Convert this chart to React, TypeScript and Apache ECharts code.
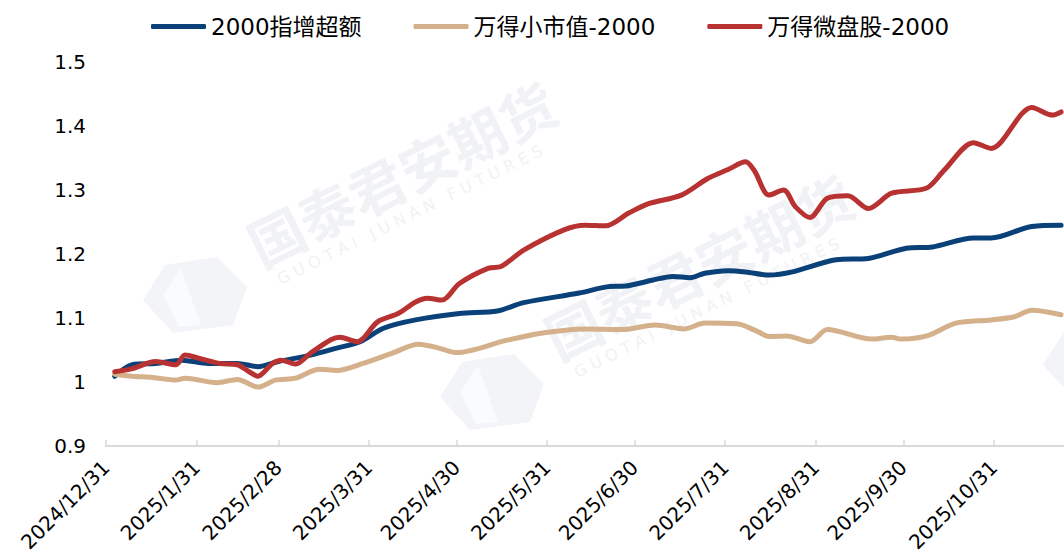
import React, { useEffect, useRef } from "react";
import * as echarts from "echarts";

const seriesNames = ["2000指增超额", "万得小市值-2000", "万得微盘股-2000"];
const seriesColors = ["#0b4179", "#d4b08b", "#b83232"];

const tickLabels = [
  "2024/12/31", "2025/1/31", "2025/2/28", "2025/3/31", "2025/4/30", "2025/5/31",
  "2025/6/30", "2025/7/31", "2025/8/31", "2025/9/30", "2025/10/31",
];

const axisStart = "2024/12/31";
const axisEnd = "2025/11/24";

const yMin = 0.9;
const yMax = 1.5;
const yStep = 0.1;

const blueData: [string, number][] = [
  ["2025/1/3", 1.009], ["2025/1/9", 1.027], ["2025/1/17", 1.029], ["2025/1/26", 1.034],
  ["2025/2/4", 1.029], ["2025/2/14", 1.029], ["2025/2/21", 1.024], ["2025/2/28", 1.032],
  ["2025/3/11", 1.042], ["2025/3/20", 1.053], ["2025/3/28", 1.063], ["2025/4/5", 1.084],
  ["2025/4/16", 1.097], ["2025/5/1", 1.107], ["2025/5/14", 1.111], ["2025/5/23", 1.124],
  ["2025/6/11", 1.139], ["2025/6/21", 1.149], ["2025/6/27", 1.150], ["2025/7/6", 1.159],
  ["2025/7/13", 1.165], ["2025/7/19", 1.163], ["2025/7/24", 1.170], ["2025/8/1", 1.174],
  ["2025/8/7", 1.172], ["2025/8/15", 1.167], ["2025/8/23", 1.172], ["2025/9/7", 1.191],
  ["2025/9/18", 1.193], ["2025/10/1", 1.209], ["2025/10/10", 1.211], ["2025/10/24", 1.225],
  ["2025/10/30", 1.225], ["2025/11/13", 1.243], ["2025/11/23", 1.245],
];

const tanData: [string, number][] = [
  ["2025/1/3", 1.012], ["2025/1/9", 1.009], ["2025/1/16", 1.007], ["2025/1/24", 1.003],
  ["2025/1/27", 1.006], ["2025/2/7", 0.999], ["2025/2/14", 1.004], ["2025/2/21", 0.992],
  ["2025/2/27", 1.003], ["2025/3/6", 1.006], ["2025/3/14", 1.020], ["2025/3/20", 1.018],
  ["2025/3/29", 1.029], ["2025/4/8", 1.045], ["2025/4/17", 1.059], ["2025/4/20", 1.057],
  ["2025/4/24", 1.053], ["2025/4/30", 1.046], ["2025/5/17", 1.065], ["2025/5/30", 1.077],
  ["2025/6/13", 1.083], ["2025/6/26", 1.082], ["2025/7/7", 1.089], ["2025/7/17", 1.083],
  ["2025/7/24", 1.092], ["2025/8/4", 1.091], ["2025/8/11", 1.079], ["2025/8/15", 1.071],
  ["2025/8/21", 1.072], ["2025/8/29", 1.063], ["2025/9/4", 1.082], ["2025/9/19", 1.067],
  ["2025/9/26", 1.070], ["2025/9/29", 1.067], ["2025/10/8", 1.072], ["2025/10/18", 1.092],
  ["2025/10/30", 1.097], ["2025/11/7", 1.102], ["2025/11/13", 1.112], ["2025/11/23", 1.105],
];

const redData: [string, number][] = [
  ["2025/1/3", 1.016], ["2025/1/9", 1.021], ["2025/1/17", 1.032], ["2025/1/24", 1.027],
  ["2025/1/27", 1.042], ["2025/2/1", 1.037], ["2025/2/8", 1.029], ["2025/2/14", 1.027],
  ["2025/2/18", 1.016], ["2025/2/21", 1.009], ["2025/2/26", 1.029], ["2025/3/1", 1.034],
  ["2025/3/6", 1.028], ["2025/3/11", 1.045], ["2025/3/18", 1.066], ["2025/3/21", 1.070],
  ["2025/3/27", 1.063], ["2025/3/29", 1.068], ["2025/4/3", 1.094], ["2025/4/10", 1.107],
  ["2025/4/16", 1.125], ["2025/4/20", 1.131], ["2025/4/25", 1.128], ["2025/5/1", 1.154],
  ["2025/5/11", 1.178], ["2025/5/15", 1.180], ["2025/5/23", 1.206], ["2025/6/6", 1.238],
  ["2025/6/13", 1.245], ["2025/6/20", 1.244], ["2025/6/28", 1.264], ["2025/7/5", 1.279],
  ["2025/7/16", 1.292], ["2025/7/25", 1.318], ["2025/8/1", 1.332], ["2025/8/7", 1.344],
  ["2025/8/10", 1.330], ["2025/8/15", 1.292], ["2025/8/20", 1.300], ["2025/8/24", 1.274],
  ["2025/8/29", 1.257], ["2025/9/4", 1.287], ["2025/9/11", 1.291], ["2025/9/18", 1.271],
  ["2025/9/26", 1.295], ["2025/10/8", 1.303], ["2025/10/14", 1.331], ["2025/10/24", 1.374],
  ["2025/10/30", 1.365], ["2025/11/13", 1.429], ["2025/11/20", 1.417], ["2025/11/23", 1.422],
];

function buildDays(from: string, to: string): string[] {
  const parse = (s: string) => {
    const [y, m, d] = s.split("/").map(Number);
    return Date.UTC(y, m - 1, d);
  };
  const out: string[] = [];
  for (let t = parse(from); t <= parse(to); t += 86400000) {
    const d = new Date(t);
    out.push(`${d.getUTCFullYear()}/${d.getUTCMonth() + 1}/${d.getUTCDate()}`);
  }
  return out;
}

const WM_COLOR = "#f0f2f6";

function watermark(x: number, y: number) {
  return {
    type: "group",
    x,
    y,
    rotation: 0.46,
    silent: true,
    z: 0,
    children: [
      {
        type: "text",
        x: 0,
        y: 0,
        style: {
          text: "国泰君安期货",
          fill: WM_COLOR,
          font: 'bold 56px "Noto Sans CJK SC"',
          textVerticalAlign: "bottom",
          textAlign: "left",
        },
      },
      {
        type: "text",
        x: 10,
        y: 6,
        style: {
          text: "G U O T A I   J U N A N   F U T U R E S",
          fill: WM_COLOR,
          font: '16px "DejaVu Sans"',
          textVerticalAlign: "top",
          textAlign: "left",
        },
      },
    ],
  };
}

function logo(cx: number, cy: number) {
  return {
    type: "group",
    x: cx,
    y: cy,
    silent: true,
    z: 0,
    children: [
      {
        type: "polygon",
        shape: {
          points: [[-52, 5], [-30, -30], [22, -38], [52, -8], [38, 30], [-22, 38]],
        },
        style: { fill: "#f2f4f8" },
      },
      {
        type: "polygon",
        shape: {
          points: [[-32, 0], [-14, -26], [6, 30], [-16, 32]],
        },
        style: { fill: "#fafbfd" },
      },
    ],
  };
}

export default function App() {
  const ref = useRef<HTMLDivElement>(null);

  useEffect(() => {
    if (!ref.current) return;
    const chart = echarts.init(ref.current, undefined, { renderer: "svg" });
    const categories = buildDays(axisStart, axisEnd);
    const tickSet = new Set(tickLabels);
    const showTick = (_i: number, v: string) => tickSet.has(v);

    const datasets = [blueData, tanData, redData];

    chart.setOption({
      animation: false,
      backgroundColor: "#ffffff",
      graphic: [
        logo(195, 295),
        logo(492, 392),
        logo(1095, 360),
        watermark(263, 272),
        watermark(560, 365),
      ],
      legend: {
        left: 146,
        top: 10,
        icon: "roundRect",
        itemWidth: 55,
        itemHeight: 5,
        itemGap: 52,
        data: seriesNames,
        textStyle: {
          fontSize: 23,
          fontFamily: '"DejaVu Sans", "Noto Sans CJK SC"',
          color: "#000",
        },
      },
      grid: {
        left: 106,
        right: 0,
        top: 62,
        bottom: 112,
        containLabel: false,
        outerBoundsMode: "none",
      },
      xAxis: {
        type: "category",
        data: categories,
        boundaryGap: false,
        axisLine: { show: true, lineStyle: { color: "#d9d9d9", width: 2 } },
        axisTick: {
          show: true,
          inside: true,
          length: 6,
          interval: showTick,
          lineStyle: { color: "#d9d9d9", width: 1.5 },
        },
        axisLabel: {
          interval: showTick,
          rotate: 45,
          margin: 18,
          fontSize: 20,
          fontFamily: '"DejaVu Sans"',
          color: "#000",
        },
        splitLine: { show: false },
      },
      yAxis: {
        type: "value",
        min: yMin,
        max: yMax,
        interval: yStep,
        axisLine: { show: false },
        axisTick: { show: false },
        splitLine: { show: false },
        axisLabel: {
          margin: 20,
          fontSize: 20,
          fontFamily: '"DejaVu Sans"',
          color: "#000",
          formatter: (v: number) => String(Math.round(v * 10) / 10),
        },
      },
      series: seriesNames.map((name, i) => ({
        name,
        type: "line",
        data: datasets[i],
        showSymbol: false,
        symbol: "none",
        smooth: 0.3,
        z: 3 + i,
        itemStyle: { color: seriesColors[i] },
        lineStyle: { color: seriesColors[i], width: 5, cap: "round", join: "round" },
      })),
    });

    return () => chart.dispose();
  }, []);

  return (
    <div
      ref={ref}
      style={{ position: "absolute", left: 0, top: 0, width: 1064, height: 558 }}
    />
  );
}
